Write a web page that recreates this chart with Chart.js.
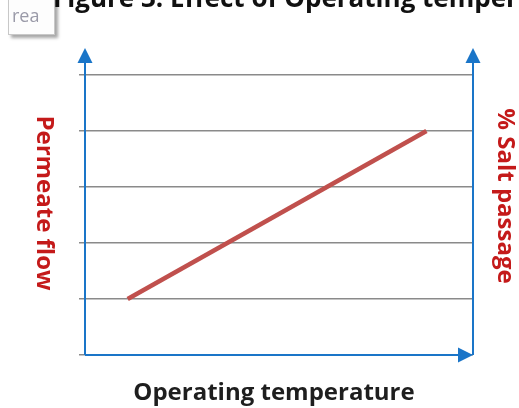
<!DOCTYPE html>
<html>
<head>
<meta charset="utf-8">
<script src="https://cdn.jsdelivr.net/npm/chart.js@4.4.1/dist/chart.umd.min.js"></script>
<style>
  html, body { margin: 0; padding: 0; background: #ffffff; }
  #wrap { position: relative; width: 519px; height: 408px; overflow: hidden; }
  #tip {
    position: absolute; left: 8px; top: -6px; width: 47px; height: 41px;
    background: #fdfdfd; border: 1px solid #c8c8c8;
    box-shadow: 3px 3px 3px rgba(0,0,0,0.35);
    font-family: "Open Sans", sans-serif; font-size: 18px; color: #9a9aa8;
    box-sizing: border-box; padding: 10px 0 0 3px; line-height: 20px;
  }
</style>
</head>
<body>
<div id="wrap">
  <canvas id="myChart" width="519" height="408"></canvas>
  <div id="tip">rea</div>
</div>
<script>
// values
const temperature = [1.1, 8.8];
const permeateFlow = [1, 4];
const gridSteps = [0, 1, 2, 3, 4, 5];

const figTitle = "Figure 3: Effect of Operating temperature";
const xTitle = "Operating temperature";
const leftTitle = "Permeate flow";
const rightTitle = "% Salt passage";

const axisBlue = "#1a75c8";
const labelRed = "#c41a1a";

// draws the arrow axes and the text around the plot
const decorations = {
  id: "decorations",
  afterDraw(chart) {
    const { ctx, chartArea: a } = chart;
    ctx.save();
    ctx.strokeStyle = axisBlue;
    ctx.fillStyle = axisBlue;
    ctx.lineWidth = 2;

    const arrowUp = (x) => {
      ctx.beginPath();
      ctx.moveTo(x, a.bottom);
      ctx.lineTo(x, 60);
      ctx.stroke();
      ctx.beginPath();
      ctx.moveTo(x, 48);
      ctx.lineTo(x - 7.5, 63);
      ctx.lineTo(x + 7.5, 63);
      ctx.closePath();
      ctx.fill();
    };
    arrowUp(a.left);
    arrowUp(a.right);

    ctx.beginPath();
    ctx.moveTo(a.left, a.bottom);
    ctx.lineTo(a.right - 12, a.bottom);
    ctx.stroke();
    ctx.beginPath();
    ctx.moveTo(a.right, a.bottom);
    ctx.lineTo(a.right - 15, a.bottom - 7.5);
    ctx.lineTo(a.right - 15, a.bottom + 7.5);
    ctx.closePath();
    ctx.fill();

    // cut-off figure title at the top
    ctx.fillStyle = "#111111";
    ctx.font = "bold 26px 'Open Sans', sans-serif";
    ctx.textAlign = "left";
    ctx.textBaseline = "alphabetic";
    ctx.fillText(figTitle, 53, 7);

    // x title
    ctx.fillStyle = "#1e1e1e";
    ctx.font = "bold 24px 'Open Sans', sans-serif";
    ctx.textAlign = "center";
    ctx.fillText(xTitle, 274, 400);

    // side titles, both turned clockwise
    ctx.fillStyle = labelRed;
    ctx.font = "bold 24px 'Open Sans', sans-serif";
    ctx.textBaseline = "middle";
    ctx.save();
    ctx.translate(44, 203);
    ctx.rotate(Math.PI / 2);
    ctx.fillText(leftTitle, 0, 0);
    ctx.restore();
    ctx.save();
    ctx.translate(505, 196);
    ctx.rotate(Math.PI / 2);
    ctx.fillText(rightTitle, 0, 0);
    ctx.restore();

    ctx.restore();
  }
};

new Chart(document.getElementById("myChart"), {
  type: "line",
  data: {
    datasets: [{
      data: temperature.map((t, i) => ({ x: t, y: permeateFlow[i] })),
      borderColor: "#c0504d",
      borderWidth: 4.5,
      borderCapStyle: "butt",
      pointRadius: 0,
      fill: false,
      tension: 0
    }]
  },
  options: {
    responsive: false,
    animation: false,
    devicePixelRatio: 1,
    layout: { padding: { left: 0, right: 46, top: 75, bottom: 53 } },
    plugins: { legend: { display: false }, tooltip: { enabled: false } },
    scales: {
      x: {
        type: "linear",
        min: 0,
        max: 10,
        grid: { display: false },
        border: { display: false },
        ticks: { display: false },
        afterFit: (s) => { s.height = 0; }
      },
      y: {
        min: gridSteps[0],
        max: gridSteps[gridSteps.length - 1],
        afterBuildTicks: (s) => { s.ticks = gridSteps.map((v) => ({ value: v })); },
        grid: { color: "#8a8a8a", lineWidth: 1.5, drawTicks: true, tickLength: 6 },
        border: { display: false },
        ticks: { display: false },
        afterFit: (s) => { s.width = 85; }
      }
    }
  },
  plugins: [decorations]
});
</script>
</body>
</html>
